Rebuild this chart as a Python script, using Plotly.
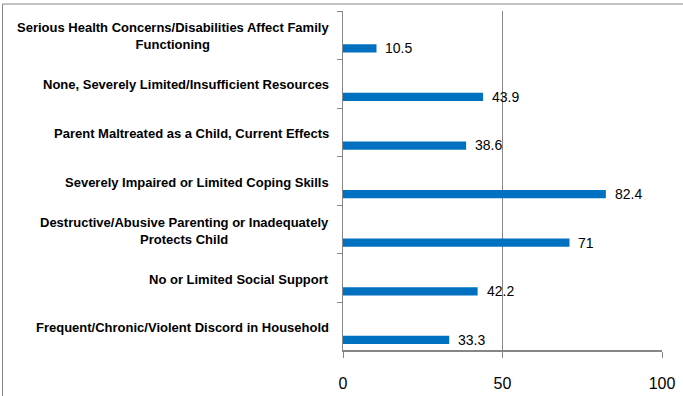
import plotly.graph_objects as go

categories = [
    "Serious Health Concerns/Disabilities Affect Family<br>Functioning",
    "None, Severely Limited/Insufficient Resources",
    "Parent Maltreated as a Child, Current Effects",
    "Severely Impaired or Limited Coping Skills",
    "Destructive/Abusive Parenting or Inadequately<br>Protects Child",
    "No or Limited Social Support",
    "Frequent/Chronic/Violent Discord in Household",
]
values = [10.5, 43.9, 38.6, 82.4, 71, 42.2, 33.3]
value_labels = ["10.5", "43.9", "38.6", "82.4", "71", "42.2", "33.3"]
x_ticks = [0, 50, 100]

W, H = 683, 396
L, R, T, B = 343, 662, 11, 351
pw, ph = R - L, B - T

def px_x(p):
    return (p - L) / pw

def px_y(p):
    return (B - p) / ph

grey = "#868686"
fig = go.Figure()
fig.add_trace(go.Bar(
    x=values, y=categories, orientation="h",
    marker=dict(color="#0070C0", line=dict(width=0)),
    width=0.17, offset=0.185, hoverinfo="skip",
))

ann = []
for c in categories:
    ann.append(dict(x=0, xref="paper", y=c, yref="y", text="<b>" + c + "</b>",
                    xanchor="right", yanchor="middle", xshift=-12, yshift=-1,
                    align="center", showarrow=False,
                    font=dict(family="Liberation Sans", size=13, color="#000000")))
for c, v, t in zip(categories, values, value_labels):
    ann.append(dict(x=v, xref="x", y=c, yref="y", text=t, xanchor="left",
                    yanchor="middle", xshift=7, yshift=-13, showarrow=False,
                    font=dict(family="Liberation Sans", size=14, color="#000000")))

shapes = [
    dict(type="line", xref="paper", yref="paper", x0=px_x(2.5), x1=px_x(W),
         y0=px_y(4), y1=px_y(4), line=dict(color=grey, width=1)),
    dict(type="line", xref="paper", yref="paper", x0=px_x(2.5), x1=px_x(2.5),
         y0=px_y(4), y1=px_y(H), line=dict(color=grey, width=1)),
    dict(type="line", xref="paper", yref="paper", x0=0, x1=1,
         y0=px_y(350.5), y1=px_y(350.5), line=dict(color=grey, width=1),
         layer="above"),
]

fig.update_layout(
    width=W, height=H,
    margin=dict(l=L, r=W - R, t=T, b=H - B, pad=0, autoexpand=False),
    paper_bgcolor="white", plot_bgcolor="white",
    showlegend=False,
    annotations=ann, shapes=shapes,
    xaxis=dict(range=[0, 100], tickvals=x_ticks, ticktext=[str(v) for v in x_ticks],
               automargin=False,
               showgrid=True, gridcolor=grey, gridwidth=1, zeroline=False,
               showline=True, linecolor=grey, linewidth=1,
               ticks="outside", ticklen=6, tickcolor=grey, tickwidth=1,
               ticklabelstandoff=12,
               tickfont=dict(family="Liberation Sans", size=16, color="#000000")),
    yaxis=dict(type="category", categoryorder="array", categoryarray=categories,
               automargin=False,
               range=[6.5, -0.5], showticklabels=False, showgrid=False,
               zeroline=False, showline=True, linecolor=grey, linewidth=1,
               ticks="outside", ticklen=5, tickcolor=grey, tickson="boundaries"),
)

fig.write_html("out.html")
